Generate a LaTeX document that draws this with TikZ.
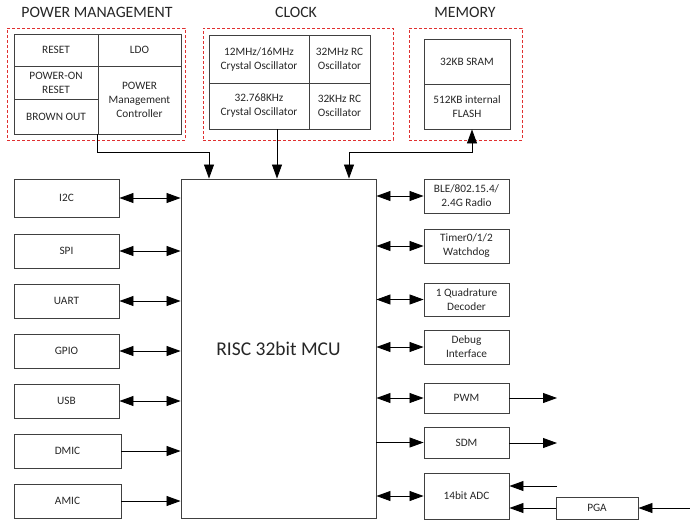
\documentclass[tikz,border=0pt]{standalone}
\usepackage{fontspec}
\setmainfont{Carlito}
\usetikzlibrary{arrows.meta,calc}
\definecolor{boxline}{HTML}{404040}
\definecolor{dashred}{HTML}{E03030}
\tikzset{
  blk/.style={draw=boxline, line width=0.9pt, rectangle, inner sep=1pt, align=center,
    font=\fontsize{11.3}{14}\selectfont, text=black!85},
  dashbox/.style={draw=dashred, line width=0.9pt, dash pattern=on 3pt off 2pt, rectangle, inner sep=0pt},
  title/.style={font=\fontsize{15.8}{17}\selectfont, text=black!85},
  arr/.style={-{Triangle[length=14pt,width=10pt]}, line width=0.8pt, draw=black},
  biarr/.style={{Triangle[length=14pt,width=10pt]}-{Triangle[length=14pt,width=10pt]}, line width=0.8pt, draw=black},
}
\newcommand{\bx}[6]{\node[blk, minimum width=#3, minimum height=#4] (#1) at (#2) {#5#6};}
\begin{document}
\begin{tikzpicture}[x=1pt,y=-1pt]
\useasboundingbox (0,0) rectangle (690,520);
% titles
\node[title] (tpm) at (97,12) {POWER MANAGEMENT};
\node[title] (tclk) at (296,12) {CLOCK};
\node[title] (tmem) at (465,12) {MEMORY};
% dashed groups
\node[dashbox, minimum width=178, minimum height=112] (gpm) at (96,84) {};
\node[dashbox, minimum width=190, minimum height=112] (gclk) at (298,84) {};
\node[dashbox, minimum width=113, minimum height=112] (gmem) at (465.5,84) {};
% power management table
\bx{reset}{56,50}{84pt}{32pt}{RESET}{}
\bx{ldo}{139.5,50}{83pt}{32pt}{LDO}{}
\bx{por}{56,82.5}{84pt}{33pt}{POWER-ON\\RESET}{}
\bx{bo}{56,116.5}{84pt}{35pt}{BROWN OUT}{}
\bx{pmc}{139.5,100}{83pt}{68pt}{POWER\\Management\\Controller}{}
% clock table
\bx{xo}{259,59}{100pt}{48pt}{12MHz/16MHz\\Crystal Oscillator}{}
\bx{rc32m}{339.5,59}{61pt}{48pt}{32MHz RC\\Oscillator}{}
\bx{xo32k}{259,106}{100pt}{46pt}{32.768KHz\\Crystal Oscillator}{}
\bx{rc32k}{339.5,106}{61pt}{46pt}{32KHz RC\\Oscillator}{}
% memory
\bx{sram}{467,61.5}{86pt}{45pt}{32KB SRAM}{}
\bx{flash}{467,106.5}{86pt}{45pt}{512KB internal\\FLASH}{}
% MCU
\node[blk, minimum width=195pt, minimum height=339pt, font=\fontsize{19.5}{22}\selectfont] (mcu) at (278.5,348.5) {RISC 32bit MCU};
% left peripherals
\bx{i2c}{66.5,198}{105pt}{38pt}{I2C}{}
\bx{spi}{66.5,251}{105pt}{34pt}{SPI}{}
\bx{uart}{66.5,301}{105pt}{34pt}{UART}{}
\bx{gpio}{66.5,351}{105pt}{34pt}{GPIO}{}
\bx{usb}{66.5,401}{105pt}{34pt}{USB}{}
\bx{dmic}{67.5,451}{107pt}{34pt}{DMIC}{}
\bx{amic}{67.5,501}{107pt}{34pt}{AMIC}{}
% right peripherals
\bx{ble}{466.5,196}{85pt}{34pt}{BLE/802.15.4/\\2.4G Radio}{}
\bx{tmr}{466.5,246}{85pt}{34pt}{Timer0/1/2\\Watchdog}{}
\bx{qdec}{466.5,299.5}{85pt}{33pt}{1 Quadrature\\Decoder}{}
\bx{dbg}{466.5,347}{85pt}{34pt}{Debug\\Interface}{}
\bx{pwm}{466.5,398}{85pt}{30pt}{PWM}{}
\bx{sdm}{466.5,442.5}{85pt}{31pt}{SDM}{}
\bx{adc}{466.5,496}{85pt}{46pt}{14bit ADC}{}
\bx{pga}{597,508}{82pt}{22pt}{PGA}{}
% top connectors
\coordinate (j1) at (209,152);
\coordinate (cdrop) at (277,129);
\coordinate (j2) at (349,152);
\coordinate (j3) at (472,152);
\draw[arr] (pmc.south west) |- (j1) -- (j1 |- mcu.north);
\draw[arr] (cdrop) -- (cdrop |- mcu.north);
\draw[biarr] (j2 |- mcu.north) -- (j2) -- (j3) -- (j3 |- flash.south);
% left connectors
\foreach \n in {i2c,spi,uart,gpio,usb}{
  \draw[biarr] (\n.east) -- (\n.east -| mcu.west);
}
\draw[arr] (dmic.east) -- (dmic.east -| mcu.west);
\draw[arr] (amic.east) -- (amic.east -| mcu.west);
% right connectors
\foreach \n in {ble,tmr,qdec,dbg,pwm,adc}{
  \draw[biarr] (\n.west -| mcu.east) -- (\n.west);
}
\draw[arr] (sdm.west -| mcu.east) -- (sdm.west);
\coordinate (pwmout) at (557,398);
\coordinate (sdmout) at (557,443);
\coordinate (adcin) at (557,486);
\coordinate (pgain) at (690,508);
\draw[arr] (pwm.east |- pwmout) -- (pwmout);
\draw[arr] (sdm.east |- sdmout) -- (sdmout);
\draw[arr] (adcin) -- (adcin -| adc.east);
\draw[arr] (pga.west) -- (pga.west -| adc.east);
\draw[arr] (pgain) -- (pga.east);
\end{tikzpicture}
\end{document}
